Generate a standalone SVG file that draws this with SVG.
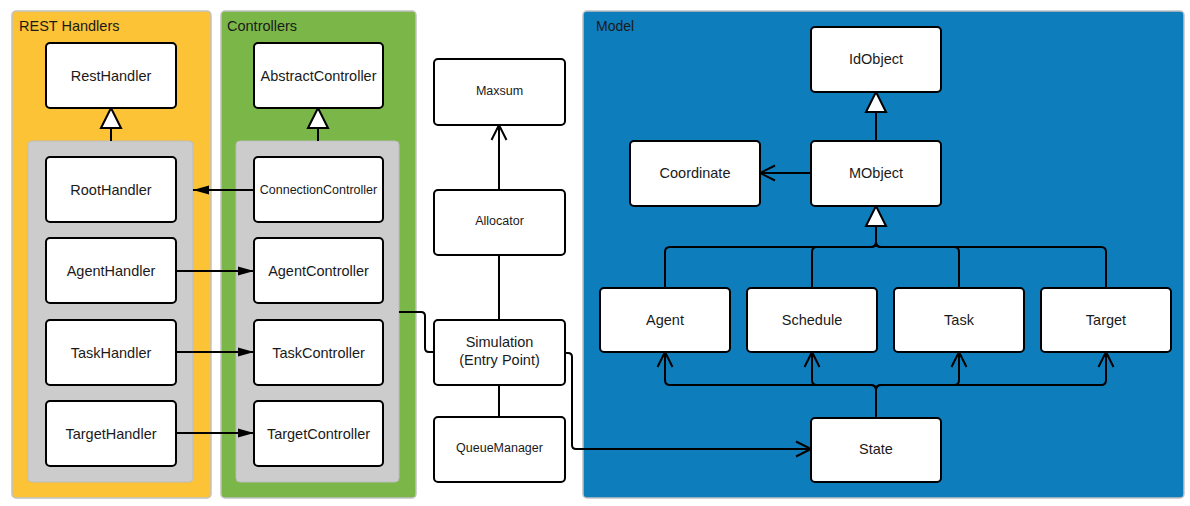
<svg xmlns="http://www.w3.org/2000/svg" width="1190" height="506" viewBox="0 0 1190 506">
<style>
.bg{fill:#ffffff}
.cont{stroke:#c2c2c2;stroke-width:1.5}
.inner{fill:#cccccc;stroke:#bdbdbd;stroke-width:1}
.node rect{fill:#ffffff;stroke:#000000;stroke-width:2}
text{font-family:"Liberation Sans",Arial,sans-serif;fill:#1a1a1a}
.lbl{font-size:14.5px;text-anchor:middle;dominant-baseline:central}
.sm{font-size:12.5px;text-anchor:middle;dominant-baseline:central}
.title{font-size:14.5px}
.conn path{fill:none;stroke:#000000;stroke-width:2}
</style>
<defs>
<marker id="tri" viewBox="-2 -12 24 24" refX="20" refY="0" markerWidth="24" markerHeight="24" markerUnits="userSpaceOnUse" orient="auto">
<path d="M0,-10 L20,0 L0,10 Z" fill="#ffffff" stroke="#000000" stroke-width="2"/>
</marker>
<marker id="open" viewBox="-2 -10 20 20" refX="15" refY="0" markerWidth="20" markerHeight="20" markerUnits="userSpaceOnUse" orient="auto">
<path d="M0,-7.5 L15,0 L0,7.5" fill="none" stroke="#000000" stroke-width="2"/>
</marker>
<marker id="fill" viewBox="0 -6 17 12" refX="16" refY="0" markerWidth="17" markerHeight="12" markerUnits="userSpaceOnUse" orient="auto">
<path d="M0,-4.5 L16,0 L0,4.5 Z" fill="#000000"/>
</marker>
</defs>
<rect class="bg" x="0" y="0" width="1190" height="506"/>
<g id="containers">
<rect class="cont" x="12" y="11" width="199" height="487" rx="4" fill="#fbc335"/>
<rect class="inner" x="28" y="141" width="165" height="341" rx="4"/>
<text class="title" x="19" y="31">REST Handlers</text>
<rect class="cont" x="221" y="11" width="195" height="487" rx="4" fill="#7ab648"/>
<rect class="inner" x="236" y="141" width="163" height="341" rx="4"/>
<text class="title" x="227" y="31">Controllers</text>
<rect class="cont" x="583" y="11" width="601" height="487" rx="4" fill="#0e7dbc"/>
<text class="title" x="596" y="31" style="font-size:14px">Model</text>
</g>
<g class="conn" id="connectors">
<path d="M111,141 V108" marker-end="url(#tri)"/>
<path d="M318,141 V108" marker-end="url(#tri)"/>
<path d="M254,190 H193" marker-end="url(#fill)"/>
<path d="M176,271 H254" marker-end="url(#fill)"/>
<path d="M176,352 H254" marker-end="url(#fill)"/>
<path d="M176,433 H254" marker-end="url(#fill)"/>
<path d="M399,312 H421 Q425,312 425,316 V348 Q425,352 429,352 H434"/>
<path d="M499,190 V125" marker-end="url(#open)"/>
<path d="M499,255 V320"/>
<path d="M499,385 V417"/>
<path d="M565,353 H568 Q572,353 572,357 V445 Q572,449 576,449 H811" marker-end="url(#open)"/>
<path d="M876,141 V92" marker-end="url(#tri)"/>
<path d="M811,173 H760" marker-end="url(#open)"/>
<path d="M876,247 V206" marker-end="url(#tri)"/>
<path d="M876,226 V242 Q876,247 871,247 H670 Q665,247 665,252 V288"/>
<path d="M876,226 V242 Q876,247 871,247 H817 Q812,247 812,252 V288"/>
<path d="M876,226 V242 Q876,247 881,247 H954 Q959,247 959,252 V288"/>
<path d="M876,226 V242 Q876,247 881,247 H1101 Q1106,247 1106,252 V288"/>
<path d="M876,418 V390 Q876,385 871,385 H670 Q665,385 665,380 V352" marker-end="url(#open)"/>
<path d="M876,418 V390 Q876,385 871,385 H817 Q812,385 812,380 V352" marker-end="url(#open)"/>
<path d="M876,418 V390 Q876,385 881,385 H954 Q959,385 959,380 V352" marker-end="url(#open)"/>
<path d="M876,418 V390 Q876,385 881,385 H1101 Q1106,385 1106,380 V352" marker-end="url(#open)"/>
</g>
<g id="RestHandler" class="node"><rect x="46" y="43" width="130" height="65" rx="4"/><text class="lbl" x="111" y="75.5">RestHandler</text></g>
<g id="RootHandler" class="node"><rect x="46" y="157" width="130" height="65" rx="4"/><text class="lbl" x="111" y="189.5">RootHandler</text></g>
<g id="AgentHandler" class="node"><rect x="46" y="238" width="130" height="65" rx="4"/><text class="lbl" x="111" y="270.5">AgentHandler</text></g>
<g id="TaskHandler" class="node"><rect x="46" y="320" width="130" height="65" rx="4"/><text class="lbl" x="111" y="352.5">TaskHandler</text></g>
<g id="TargetHandler" class="node"><rect x="46" y="401" width="130" height="65" rx="4"/><text class="lbl" x="111" y="433.5">TargetHandler</text></g>
<g id="AbstractController" class="node"><rect x="254" y="43" width="129" height="65" rx="4"/><text class="lbl" x="318.5" y="75.5">AbstractController</text></g>
<g id="ConnectionController" class="node"><rect x="254" y="157" width="129" height="65" rx="4"/><text class="sm" x="318.5" y="189.5">ConnectionController</text></g>
<g id="AgentController" class="node"><rect x="254" y="238" width="129" height="65" rx="4"/><text class="lbl" x="318.5" y="270.5">AgentController</text></g>
<g id="TaskController" class="node"><rect x="254" y="320" width="129" height="65" rx="4"/><text class="lbl" x="318.5" y="352.5">TaskController</text></g>
<g id="TargetController" class="node"><rect x="254" y="401" width="129" height="65" rx="4"/><text class="lbl" x="318.5" y="433.5">TargetController</text></g>
<g id="Maxsum" class="node"><rect x="434" y="59" width="131" height="66" rx="4"/><text class="sm" x="499.5" y="91">Maxsum</text></g>
<g id="Allocator" class="node"><rect x="434" y="190" width="131" height="65" rx="4"/><text class="sm" x="499.5" y="221">Allocator</text></g>
<g id="Simulation" class="node"><rect x="434" y="320" width="131" height="65" rx="4"/><text class="lbl" x="499.5" y="342">Simulation</text><text class="lbl" x="499.5" y="360">(Entry Point)</text></g>
<g id="QueueManager" class="node"><rect x="434" y="417" width="131" height="65" rx="4"/><text class="sm" x="499.5" y="448">QueueManager</text></g>
<g id="IdObject" class="node"><rect x="811" y="27" width="130" height="65" rx="4"/><text class="lbl" x="876" y="59">IdObject</text></g>
<g id="Coordinate" class="node"><rect x="630" y="141" width="130" height="65" rx="4"/><text class="lbl" x="695" y="173">Coordinate</text></g>
<g id="MObject" class="node"><rect x="811" y="141" width="130" height="65" rx="4"/><text class="lbl" x="876" y="173">MObject</text></g>
<g id="Agent" class="node"><rect x="600" y="288" width="130" height="64" rx="4"/><text class="lbl" x="665" y="319.5">Agent</text></g>
<g id="Schedule" class="node"><rect x="747" y="288" width="130" height="64" rx="4"/><text class="lbl" x="812" y="319.5">Schedule</text></g>
<g id="Task" class="node"><rect x="894" y="288" width="130" height="64" rx="4"/><text class="lbl" x="959" y="319.5">Task</text></g>
<g id="Target" class="node"><rect x="1041" y="288" width="130" height="64" rx="4"/><text class="lbl" x="1106" y="319.5">Target</text></g>
<g id="State" class="node"><rect x="811" y="418" width="130" height="64" rx="4"/><text class="lbl" x="876" y="449">State</text></g>
</svg>
